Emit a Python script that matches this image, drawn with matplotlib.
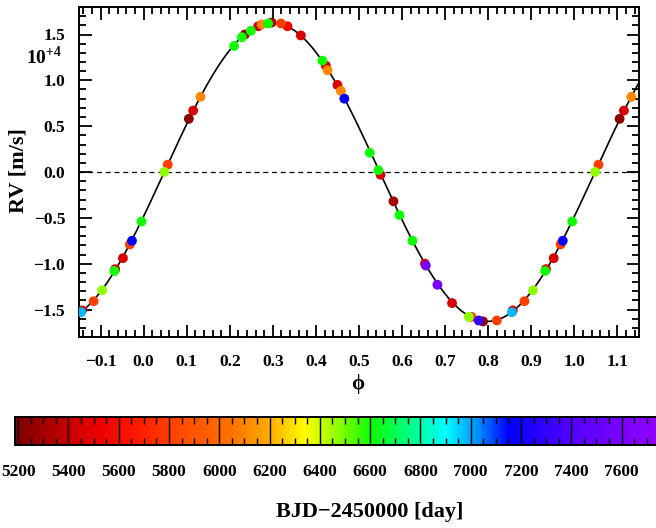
import numpy as np
import matplotlib
matplotlib.use("Agg")
import matplotlib.pyplot as plt
from matplotlib.colors import LinearSegmentedColormap, Normalize
from matplotlib.ticker import MultipleLocator, FixedLocator

# ---------------- data ----------------
phase = [0.048, 0.056, 0.105, 0.115, 0.132, 0.210, 0.228, 0.235, 0.249, 0.266,
         0.274, 0.289, 0.297, 0.319, 0.334, 0.365, 0.415, 0.423, 0.427, 0.450,
         0.458, 0.466, 0.525, 0.545, 0.550, 0.580, 0.594, 0.624, 0.653, 0.655,
         0.682, 0.716, 0.761, 0.755, 0.778, 0.788, 0.820, 0.857, 0.855, 0.884,
         0.904, 0.934, 0.932, 0.952, 0.968, 0.973, 0.995]
rv = [0.00, 0.08, 0.58, 0.67, 0.82, 1.375, 1.47, 1.50, 1.54, 1.59,
      1.61, 1.62, 1.63, 1.62, 1.59, 1.49, 1.215, 1.16, 1.11, 0.95,
      0.885, 0.80, 0.21, 0.02, -0.03, -0.32, -0.47, -0.75, -1.00, -1.02,
      -1.23, -1.43, -1.58, -1.58, -1.62, -1.63, -1.62, -1.51, -1.53, -1.41,
      -1.29, -1.06, -1.08, -0.94, -0.79, -0.75, -0.54]
bjd = [6470, 5800, 5230, 5450, 6100, 6600, 6600, 5250, 6600, 5420,
       6100, 6600, 5330, 5800, 5550, 5450, 6600, 5450, 6100, 5450,
       6100, 7150, 6600, 6600, 5450, 5300, 6600, 6600, 5450, 7580,
       7580, 5450, 5800, 6470, 7300, 5250, 5800, 5450, 6980, 5800,
       6470, 5450, 6600, 5450, 5800, 7150, 6600]

K_model = 1.63        # semi-amplitude in 10^4 m/s
phi0_model = 0.048    # ascending node phase

x_ticks = [-0.1, 0.0, 0.1, 0.2, 0.3, 0.4, 0.5, 0.6, 0.7, 0.8, 0.9, 1.0, 1.1]
y_ticks = [-1.5, -1.0, -0.5, 0.0, 0.5, 1.0, 1.5]
cb_ticks = [5200, 5400, 5600, 5800, 6000, 6200, 6400, 6600, 6800, 7000, 7200, 7400, 7600]
cb_min, cb_max = 5186, 7742

# colour scale anchors (BJD, rgb)
cmap_bjd = [5186, 5350, 5500, 5650, 5850, 6050, 6200, 6340, 6460, 6600,
            6750, 6900, 7030, 7150, 7400, 7742]
cmap_rgb = [(0.50, 0.0, 0.0), (0.72, 0.0, 0.0), (0.92, 0.0, 0.0), (1.0, 0.08, 0.0),
            (1.0, 0.30, 0.0), (1.0, 0.45, 0.0), (1.0, 0.68, 0.0), (1.0, 1.0, 0.0),
            (0.60, 1.0, 0.0), (0.05, 1.0, 0.0), (0.0, 1.0, 0.5), (0.0, 1.0, 1.0),
            (0.0, 0.55, 1.0), (0.0, 0.0, 1.0), (0.33, 0.0, 1.0), (0.58, 0.0, 1.0)]

# ---------------- style ----------------
SERIF = ['Liberation Serif', 'DejaVu Serif']
plt.rcParams['font.family'] = SERIF
plt.rcParams['font.weight'] = 'bold'
plt.rcParams['mathtext.fontset'] = 'custom'
plt.rcParams['mathtext.rm'] = 'Liberation Serif:bold'
plt.rcParams['mathtext.bf'] = 'Liberation Serif:bold'

nodes = [(b - cb_min) / (cb_max - cb_min) for b in cmap_bjd]
cmap = LinearSegmentedColormap.from_list('bjd', list(zip(nodes, cmap_rgb)))
norm = Normalize(vmin=cb_min, vmax=cb_max)

fig = plt.figure(figsize=(6.56, 5.28), dpi=100)
ax = fig.add_axes([79/656, 1 - 337/528, 560/656, 330/528])

# model
grid = np.linspace(-0.15, 1.15, 600)
ax.plot(grid, K_model * np.sin(2 * np.pi * (grid - phi0_model)), color='black', lw=1.2, zorder=2)
ax.axhline(0.0, color='black', lw=0.9, ls=(0, (4, 3)), zorder=1)

# points (with wrapped copies), later epochs drawn on top
ph = np.array(phase); v = np.array(rv); t = np.array(bjd)
P = np.concatenate([ph, ph[ph > 0.85] - 1.0, ph[ph < 0.15] + 1.0])
V = np.concatenate([v, v[ph > 0.85], v[ph < 0.15]])
T = np.concatenate([t, t[ph > 0.85], t[ph < 0.15]])
o2 = np.argsort(T, kind='stable')
ax.scatter(P[o2], V[o2], c=T[o2], cmap=cmap, norm=norm, s=50, edgecolors='none', zorder=3)

ax.set_xlim(-0.15, 1.15)
ax.set_ylim(-1.8, 1.8)
ax.xaxis.set_major_locator(FixedLocator(x_ticks))
ax.yaxis.set_major_locator(FixedLocator(y_ticks))
ax.xaxis.set_minor_locator(MultipleLocator(0.02))
ax.yaxis.set_minor_locator(MultipleLocator(0.1))
ax.set_xticklabels([f"{x:.1f}".replace('-', '\u2212') for x in x_ticks])
ax.set_yticklabels([f"{y:.1f}".replace('-', '\u2212') for y in y_ticks])
ax.tick_params(which='both', direction='in', top=True, right=True, width=1.3, colors='black')
ax.tick_params(which='major', length=9)
ax.tick_params(which='minor', length=5)
ax.tick_params(axis='x', which='major', pad=12, labelsize=12.5)
ax.tick_params(axis='y', which='major', pad=10, labelsize=12.5)
for lbl in ax.get_xticklabels() + ax.get_yticklabels():
    lbl.set_fontweight('bold')
for s in ax.spines.values():
    s.set_linewidth(1.4)

fig.text(18/656, 1 - 171/528, 'RV [m/s]', rotation=90, ha='center', va='center',
         fontsize=16, fontweight='bold')
fig.text(44/656, 1 - 57/528, r'10$^{+4}$', ha='center', va='center', fontsize=14, fontweight='bold')
fig.text(358/656, 1 - 384/528, '\u03d5', ha='center', va='center', fontsize=15, family=SERIF)

# colour bar
cax = fig.add_axes([14.6/656, 1 - 445/528, (656 - 14.6)/656 + 0.002, 28/528])
grad = np.linspace(cb_min, cb_max, 1024).reshape(1, -1)
cax.imshow(grad, aspect='auto', cmap=cmap, norm=norm,
           extent=[cb_min, cb_max, 0, 1], interpolation='bilinear')
cax.set_xlim(cb_min, cb_max)
cax.set_ylim(0, 1)
cax.set_yticks([])
cax.xaxis.set_major_locator(FixedLocator(cb_ticks))
cax.xaxis.set_minor_locator(MultipleLocator(50))
cax.set_xticklabels([str(c) for c in cb_ticks])
cax.tick_params(which='major', direction='in', length=0, pad=14, labelsize=12.5)
cax.tick_params(which='minor', direction='in', top=True, bottom=True, length=5, width=1.0, colors='black')
cax.grid(which='major', axis='x', color='black', lw=1.0)
for lbl in cax.get_xticklabels():
    lbl.set_fontweight('bold')
for s in cax.spines.values():
    s.set_linewidth(1.4)

fig.text(370/656, 1 - 512/528, 'BJD\u22122450000 [day]', ha='center', va='center',
         fontsize=16, fontweight='bold')

fig.savefig('out.png', dpi=100)
